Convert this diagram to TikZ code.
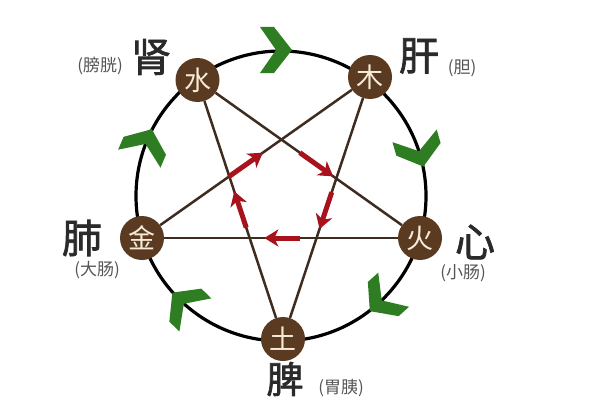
\documentclass[tikz,border=0pt]{standalone}
\usepackage{fontspec}
\newfontfamily\cjk{Noto Sans CJK SC}
\newfontfamily\cjkb[FakeBold=1.8]{Noto Sans CJK SC}
\usetikzlibrary{arrows.meta,calc}
\definecolor{nodebrown}{HTML}{5A3A20}
\definecolor{linebrown}{HTML}{3E2C20}
\definecolor{leafgreen}{HTML}{2E7D22}
\definecolor{arrowred}{HTML}{A8121C}
\definecolor{cream}{HTML}{F7EBD8}
\definecolor{labelgray}{HTML}{555555}
\definecolor{organ}{HTML}{2A2A2A}
\tikzset{
  elem/.style={circle,fill=nodebrown,text=cream,minimum size=44pt,inner sep=0pt,
    font=\cjk\fontsize{27}{27}\selectfont},
  organlbl/.style={text=organ,inner sep=0pt,font=\cjkb\fontsize{40}{40}\selectfont},
  sublbl/.style={text=labelgray,inner sep=0pt,font=\cjk\fontsize{17}{17}\selectfont},
  starline/.style={draw=linebrown,line width=2.5pt},
  ring/.style={draw=black,line width=3.2pt},
  redarr/.style={draw=arrowred,line width=5pt,-{Stealth[length=14pt,width=17pt,inset=4pt]}},
  chev/.pic={\fill[leafgreen] (11,0) -- (-7,23) -- (-21,23) -- (-5,0) -- (-21,-23) -- (-7,-23) -- cycle;}
}
\begin{document}
\begin{tikzpicture}[x=1pt,y=1pt]
\useasboundingbox[fill=white] (0,0) rectangle (600,400);
\coordinate (C) at (281,204);
% ring
\draw[ring] (C) circle[radius=145];
% element nodes
\node[elem] (shui) at (197.5,320) {水};
\node[elem] (mu)   at (370,323) {木};
\node[elem] (huo)  at (420,162) {火};
\node[elem] (tu)   at (283,61) {土};
\node[elem] (jin)  at (142,162) {金};
% pentagram
\draw[starline] (shui) -- (huo);
\draw[starline] (shui) -- (tu);
\draw[starline] (mu) -- (jin);
\draw[starline] (mu) -- (tu);
\draw[starline] (jin) -- (huo);
% red arrows (ke cycle)
\draw[redarr] ($(jin)!0.38!(mu)$) -- ($(jin)!0.53!(mu)$);
\draw[redarr] ($(shui)!0.46!(huo)$) -- ($(shui)!0.61!(huo)$);
\draw[redarr] ($(mu)!0.44!(tu)$) -- ($(mu)!0.58!(tu)$);
\draw[redarr] ($(huo)!0.43!(jin)$) -- ($(huo)!0.56!(jin)$);
\draw[redarr] ($(tu)!0.43!(shui)$) -- ($(tu)!0.57!(shui)$);
% green chevrons (sheng cycle)
\pic[rotate=0] at ($(C)+(90:146)$) {chev};
\pic[rotate=-74] at ($(C)+(16:145)$) {chev};
\pic[rotate=-138] at ($(C)+(-48:145)$) {chev};
\pic[rotate=136] at ($(C)+(-134:145)$) {chev};
\pic[rotate=67] at ($(C)+(157:145)$) {chev};
% labels
\node[organlbl] (shen) at (151,343) {肾};
\node[sublbl] (pangguang) at (100,334) {(膀胱)};
\node[organlbl] (gan) at (419,344) {肝};
\node[sublbl] (dan) at (462,332) {(胆)};
\node[organlbl] (fei) at (82,162) {肺};
\node[sublbl] (dachang) at (97,130) {(大肠)};
\node[organlbl] (xin) at (475,158) {心};
\node[sublbl] (xiaochang) at (463,127) {(小肠)};
\node[organlbl,font=\cjkb\fontsize{37}{37}\selectfont] (pi) at (285,21) {脾};
\node[sublbl] (weiyi) at (341,12) {(胃胰)};
\end{tikzpicture}
\end{document}
